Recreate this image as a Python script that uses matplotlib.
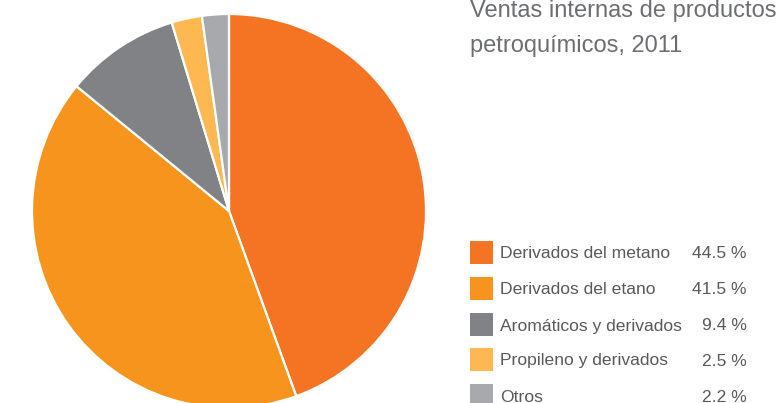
import matplotlib
matplotlib.use("Agg")
import matplotlib.pyplot as plt
from matplotlib.patches import Rectangle

categories = ["Derivados del metano", "Derivados del etano", "Aromáticos y derivados",
              "Propileno y derivados", "Otros"]
values = [44.5, 41.5, 9.4, 2.5, 2.2]
pct_labels = ["44.5 %", "41.5 %", "9.4 %", "2.5 %", "2.2 %"]
colors = ["#F47424", "#F7941E", "#808285", "#FDB851", "#A7A9AC"]
title_lines = ["Ventas internas de productos", "petroquímicos, 2011"]

W, H = 780, 403
FONT = ["Liberation Sans", "DejaVu Sans"]

fig = plt.figure(figsize=(W / 100, H / 100), dpi=100)
fig.patch.set_facecolor("white")

# pie axes: center (229, 211), radius 197 px
cx, cy, r = 229, 211, 197
ax = fig.add_axes([(cx - r) / W, (H - cy - r) / H, 2 * r / W, 2 * r / H])
ax.pie(values, colors=colors, startangle=90, counterclock=False, radius=1,
       wedgeprops=dict(edgecolor="white", linewidth=1.6))
ax.set_xlim(-1, 1)
ax.set_ylim(-1, 1)
ax.set_aspect("equal")
ax.axis("off")


def fx(x):
    return x / W


def fy(y):
    return 1 - y / H


# title
title_base = [17, 52]
for line, yb in zip(title_lines, title_base):
    fig.text(fx(470), fy(yb), line, family=FONT, fontsize=17, color="#6D6E71",
             ha="left", va="baseline")

# legend
row_centers = [252, 288, 324, 359, 395]
for cat, pct, col, yc in zip(categories, pct_labels, colors, row_centers):
    fig.patches.append(Rectangle((fx(470), fy(yc + 11.5)), 23 / W, 23 / H,
                                 transform=fig.transFigure, facecolor=col,
                                 edgecolor="none"))
    fig.text(fx(500), fy(yc + 6.5), cat, family=FONT, fontsize=12.6,
             color="#58595B", ha="left", va="baseline")
    fig.text(fx(747), fy(yc + 6.5), pct, family=FONT, fontsize=12.6,
             color="#58595B", ha="right", va="baseline")

fig.savefig("out.png", dpi=100, facecolor="white")
